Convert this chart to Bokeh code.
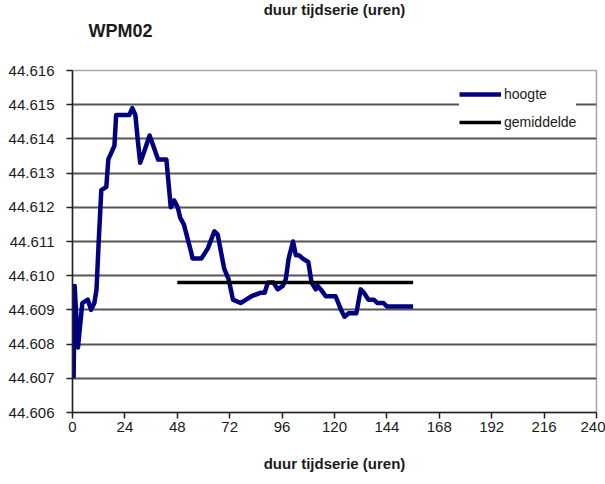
from bokeh.plotting import figure
from bokeh.models import FixedTicker, NumeralTickFormatter, Title, Range1d
from bokeh.embed import file_html
from bokeh.resources import INLINE

# ---- data ----
hours = [0.5, 1.0, 2.5, 4.5, 7, 8.5, 10, 11, 12, 13.2, 15.5, 16.4, 17.8, 19.2, 20,
         21.5, 26, 27.4, 28.8, 30, 31, 32.7, 35.3, 37, 39.2, 43, 45, 46.6, 48.2,
         49.3, 51, 54.3, 55, 59, 62, 65, 66.5, 69.5, 71.5, 73.5, 77, 79.5, 82, 86,
         88, 89.5, 92, 94, 96.3, 97.7, 99, 101, 102.3, 103.7, 105.5, 108, 109.5,
         111.4, 112.3, 113.7, 116, 120.5, 123, 124.6, 126.5, 129, 130, 132, 133.5,
         135.5, 138, 139.7, 142.5, 144, 156]
hoogte = [44.6070, 44.6097, 44.6079, 44.6092, 44.6093, 44.6090, 44.6092, 44.6096,
          44.6110, 44.6125, 44.6126, 44.6134, 44.6136, 44.6138, 44.6147, 44.6147,
          44.6147, 44.6149, 44.6147, 44.6139, 44.6133, 44.6136, 44.6141, 44.6138,
          44.6134, 44.6134, 44.6120, 44.6122, 44.6120, 44.6117, 44.6115, 44.6107,
          44.6105, 44.6105, 44.6108, 44.6113, 44.6112, 44.6102, 44.6099, 44.6093,
          44.6092, 44.6093, 44.6094, 44.6095, 44.6095, 44.6098, 44.6098, 44.6096,
          44.6097, 44.6099, 44.6105, 44.6110, 44.6106, 44.6106, 44.6105, 44.6104,
          44.6098, 44.6096, 44.6097, 44.6096, 44.6094, 44.6094, 44.6090, 44.6088,
          44.6089, 44.6089, 44.6089, 44.6096, 44.6095, 44.6093, 44.6093, 44.6092,
          44.6092, 44.6091, 44.6091]
gem_hours = [48, 156]
gemiddelde = 44.6098
x_ticks = [0, 24, 48, 72, 96, 120, 144, 168, 192, 216, 240]
y_ticks = [44.606, 44.607, 44.608, 44.609, 44.610, 44.611, 44.612, 44.613,
           44.614, 44.615, 44.616]
station = "WPM02"
x_title = "duur tijdserie (uren)"

FONT = "Liberation Sans"

p = figure(width=605, height=484, output_backend="svg", toolbar_location=None,
           x_range=Range1d(0, 240), y_range=Range1d(44.606, 44.616),
           min_border_left=72, min_border_right=9, min_border_top=70,
           min_border_bottom=72)
p.background_fill_color = "white"
p.border_fill_color = "white"
p.outline_line_color = "#a8a8a8"
p.outline_line_width = 1.5

p.line(hours, hoogte, line_color="#000080", line_width=4.5,
       line_join="round", legend_label="hoogte")
p.line(gem_hours, [gemiddelde, gemiddelde], line_color="black", line_width=3.5,
       legend_label="gemiddelde")

# axes
p.xaxis.ticker = FixedTicker(ticks=x_ticks)
p.yaxis.ticker = FixedTicker(ticks=y_ticks)
p.yaxis.formatter = NumeralTickFormatter(format="0.000")
p.xaxis.formatter = NumeralTickFormatter(format="0")
for ax in (p.xaxis[0], p.yaxis[0]):
    ax.minor_tick_line_color = None
    ax.major_tick_in = 0
    ax.major_tick_out = 6
    ax.major_tick_line_color = "#222222"
    ax.major_tick_line_width = 1.5
    ax.axis_line_color = "#222222"
    ax.axis_line_width = 1.5
    ax.major_label_text_font = FONT
    ax.major_label_text_font_size = "15px"
    ax.major_label_text_color = "#1a1a1a"
p.yaxis.major_label_standoff = 12
p.xaxis.major_label_standoff = 3
p.xaxis.axis_label = x_title
p.xaxis.axis_label_text_font = FONT
p.xaxis.axis_label_text_font_style = "bold"
p.xaxis.axis_label_text_font_size = "15px"
p.xaxis.axis_label_text_color = "#1a1a1a"
p.xaxis.axis_label_standoff = 20

p.xgrid.grid_line_color = None
p.ygrid.grid_line_color = "#555555"
p.ygrid.grid_line_width = 1.8

# legend
lg = p.legend[0]
lg.location = (387, 280)
lg.background_fill_color = "white"
lg.background_fill_alpha = 1.0
lg.border_line_color = None
lg.label_text_font = FONT
lg.label_text_font_size = "14px"
lg.label_text_color = "#1a1a1a"
lg.glyph_width = 42
lg.glyph_height = 20
lg.label_height = 20
lg.spacing = 8
lg.padding = 8
lg.margin = 0
lg.label_standoff = 3

# titles: spacer (nearest to frame), station label, then cut-off top title (outermost)
p.add_layout(Title(text=" ", text_font=FONT, text_font_size="10px", standoff=17),
             "above")
p.add_layout(Title(text=station, align="left", offset=16, standoff=0,
                   vertical_align="bottom", text_font=FONT,
                   text_font_style="bold", text_font_size="18px",
                   text_color="#1a1a1a"), "above")
p.title.text = x_title
p.title.align = "center"
p.title.vertical_align = "top"
p.title.standoff = -2
p.title.text_font = FONT
p.title.text_font_style = "bold"
p.title.text_font_size = "15px"
p.title.text_color = "#1a1a1a"

open("out.html", "w").write(file_html(p, INLINE))
